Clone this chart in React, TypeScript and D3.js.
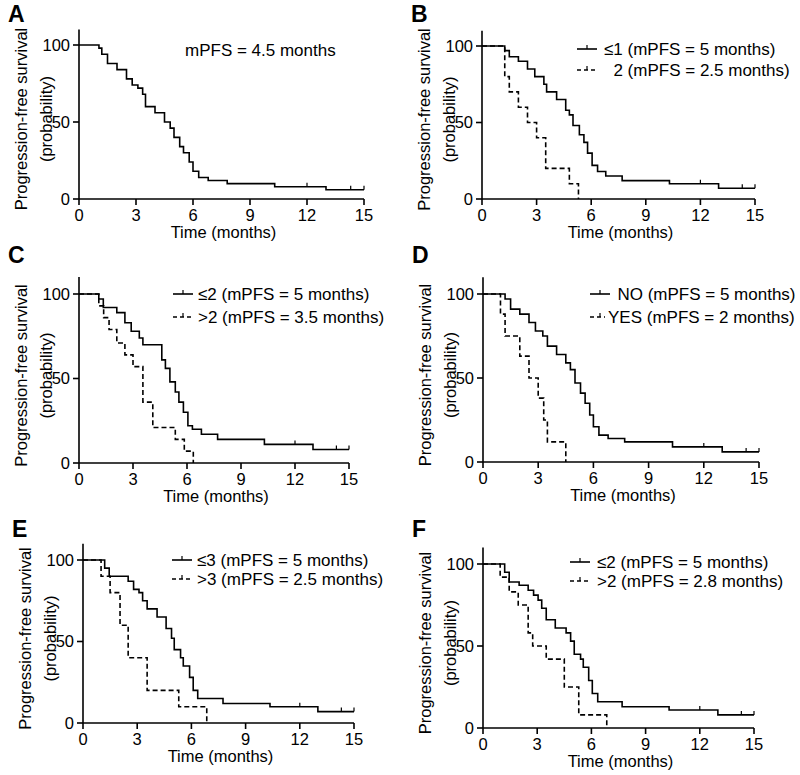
import * as d3 from "d3";

type Step = [number, number];

type Curve = {
  steps: Step[];
  end: number;
  censored: number[];
  dashed: boolean;
  label: string;
};

type Layout = {
  letter: string;
  left: number;
  right: number;
  y0: number;
  y100: number;
  letterY: number;
  legendX: number;
  legendY: number;
  legendGap: number;
  textDx: number;
};

const xTicks = [0, 3, 6, 9, 12, 15];
const yTicks = [0, 50, 100];
const censorTimes = [12, 14.3, 15];

const panelLetters = ["A", "B", "C", "D", "E", "F"];

// A - all patients
const stepsA: Step[] = [
  [1.05, 98], [1.2, 94], [1.5, 88], [2.0, 84], [2.5, 78], [2.8, 74], [3.1, 72],
  [3.35, 68], [3.5, 60], [4.0, 56], [4.5, 50], [4.8, 46], [5.0, 40], [5.3, 34],
  [5.5, 30], [5.8, 24], [6.0, 18], [6.3, 14], [6.8, 12], [7.8, 10], [10.3, 8],
  [13.0, 6],
];

// B
const stepsB1: Step[] = [
  [1.25, 97], [1.5, 93], [2.0, 90], [2.5, 85], [2.9, 80], [3.4, 75], [3.55, 70],
  [4.1, 65], [4.6, 58], [4.8, 55], [5.0, 48], [5.35, 42], [5.6, 37], [5.8, 30],
  [6.05, 22], [6.35, 18], [6.8, 15], [7.7, 12], [10.3, 10], [13.0, 7],
];
const stepsB2: Step[] = [
  [1.25, 80], [1.5, 70], [2.0, 60], [2.5, 50], [3.0, 40], [3.5, 20], [4.8, 10],
  [5.3, 0],
];

// C
const stepsC1: Step[] = [
  [1.1, 97], [1.35, 92], [2.1, 89], [2.55, 83], [2.9, 78], [3.35, 74], [3.55, 70],
  [4.6, 61], [4.8, 56], [5.05, 48], [5.35, 42], [5.55, 36], [5.8, 30], [6.05, 22],
  [6.3, 20], [6.8, 17], [7.7, 14], [10.3, 11], [13.0, 8],
];
const stepsC2: Step[] = [
  [1.1, 93], [1.37, 86], [1.67, 79], [2.1, 71], [2.55, 64], [3.0, 57], [3.55, 36],
  [4.1, 21], [5.35, 14], [5.85, 7], [6.35, 0],
];

// D
const stepsD1: Step[] = [
  [1.2, 97], [1.5, 91], [2.0, 88], [2.5, 83], [2.85, 78], [3.25, 75], [3.5, 69],
  [4.0, 64], [4.5, 59], [4.75, 55], [5.0, 47], [5.3, 41], [5.55, 35], [5.8, 28],
  [6.0, 21], [6.3, 16], [6.8, 14], [7.7, 12], [10.3, 9], [13.0, 6],
];
const stepsD2: Step[] = [
  [0.95, 88], [1.2, 75], [2.0, 63], [2.5, 50], [3.0, 38], [3.3, 25], [3.5, 12],
  [4.5, 0],
];

// E
const stepsE1: Step[] = [
  [1.2, 95], [1.45, 90], [2.5, 87], [2.8, 82], [3.1, 80], [3.3, 75], [3.55, 70],
  [4.1, 65], [4.6, 58], [4.9, 52], [5.05, 45], [5.4, 40], [5.55, 35], [5.9, 28],
  [6.1, 20], [6.35, 15], [7.75, 12], [10.35, 10], [13.0, 7],
];
const stepsE2: Step[] = [
  [1.0, 90], [1.5, 80], [2.05, 60], [2.5, 40], [3.55, 20], [5.3, 10], [6.85, 0],
];

// F
const stepsF1: Step[] = [
  [1.2, 95], [1.45, 89], [2.0, 87], [2.5, 84], [2.8, 81], [3.05, 78], [3.25, 73],
  [3.5, 66], [4.0, 61], [4.6, 58], [4.85, 53], [5.05, 45], [5.4, 42], [5.55, 37],
  [5.85, 29], [6.05, 21], [6.35, 16], [7.7, 13], [10.3, 11], [13.0, 8],
];
const stepsF2: Step[] = [
  [0.95, 92], [1.45, 83], [1.95, 75], [2.5, 58], [2.75, 50], [3.5, 42], [4.5, 25],
  [5.3, 8], [6.85, 0],
];

const labelsA = ["mPFS = 4.5 months"];
const labelsB = ["≤1 (mPFS = 5 months)", "  2 (mPFS = 2.5 months)"];
const labelsC = ["≤2 (mPFS = 5 months)", ">2 (mPFS = 3.5 months)"];
const labelsD = ["  NO (mPFS = 5 months)", "YES (mPFS = 2 months)"];
const labelsE = ["≤3 (mPFS = 5 months)", ">3 (mPFS = 2.5 months)"];
const labelsF = ["≤2 (mPFS = 5 months)", ">2 (mPFS = 2.8 months)"];

const lastTime = (s: Step[]) => s[s.length - 1][0];

const solid = (steps: Step[], label: string): Curve => ({
  steps,
  end: 15,
  censored: censorTimes,
  dashed: false,
  label,
});
const dashed = (steps: Step[], label: string): Curve => ({
  steps,
  end: lastTime(steps),
  censored: [],
  dashed: true,
  label,
});

const panelCurves: Curve[][] = [
  [solid(stepsA, labelsA[0])],
  [solid(stepsB1, labelsB[0]), dashed(stepsB2, labelsB[1])],
  [solid(stepsC1, labelsC[0]), dashed(stepsC2, labelsC[1])],
  [solid(stepsD1, labelsD[0]), dashed(stepsD2, labelsD[1])],
  [solid(stepsE1, labelsE[0]), dashed(stepsE2, labelsE[1])],
  [solid(stepsF1, labelsF[0]), dashed(stepsF2, labelsF[1])],
];

const layouts: Layout[] = [
  { letter: panelLetters[0], left: 79, right: 364, y0: 199, y100: 45, letterY: 22, legendX: 185, legendY: 50, legendGap: 0, textDx: 0 },
  { letter: panelLetters[1], left: 482, right: 755, y0: 199, y100: 46, letterY: 22, legendX: 577, legendY: 49, legendGap: 21, textDx: 27 },
  { letter: panelLetters[2], left: 79, right: 349, y0: 463, y100: 294, letterY: 263, legendX: 173, legendY: 294, legendGap: 23, textDx: 25 },
  { letter: panelLetters[3], left: 483, right: 759, y0: 462, y100: 294, letterY: 263, legendX: 590, legendY: 294, legendGap: 23, textDx: 18 },
  { letter: panelLetters[4], left: 83, right: 354, y0: 723, y100: 560, letterY: 537, legendX: 172, legendY: 560, legendGap: 19, textDx: 25 },
  { letter: panelLetters[5], left: 483, right: 754, y0: 728, y100: 564, letterY: 537, legendX: 570, legendY: 562, legendGap: 19, textDx: 27 },
];

const FONT = '"Liberation Sans", Arial, Helvetica, sans-serif';
const DASH = "5,3";

function valueAt(steps: Step[], t: number) {
  let v = 100;
  for (const [x, s] of steps) if (x <= t) v = s;
  return v;
}

function Panel({ lay, curves }: { lay: Layout; curves: Curve[] }) {
  const x = d3.scaleLinear().domain([0, 15]).range([lay.left, lay.right]);
  const y = d3.scaleLinear().domain([0, 100]).range([lay.y0, lay.y100]);
  const line = d3
    .line<Step>()
    .x((d) => x(d[0]))
    .y((d) => y(d[1]))
    .curve(d3.curveStepAfter);

  const single = curves.length === 1;
  const midY = (y(0) + y(100)) / 2 - 3;

  return (
    <g>
      <text x={lay.left - 71} y={lay.letterY} fontSize={23} fontWeight="bold" fontFamily={FONT}>
        {lay.letter}
      </text>

      {/* axes */}
      <line x1={lay.left} x2={lay.left} y1={y(0)} y2={y(110)} stroke="#000" strokeWidth={1.6} />
      <line x1={lay.left} x2={x(15)} y1={y(0)} y2={y(0)} stroke="#000" strokeWidth={1.6} />
      {yTicks.map((t) => (
        <g key={"y" + t}>
          <line x1={lay.left - 6} x2={lay.left} y1={y(t)} y2={y(t)} stroke="#000" strokeWidth={1.6} />
          <text x={lay.left - 9} y={y(t)} dy="0.36em" textAnchor="end" fontSize={16.5} fontFamily={FONT}>
            {t}
          </text>
        </g>
      ))}
      {xTicks.map((t) => (
        <g key={"x" + t}>
          <line x1={x(t)} x2={x(t)} y1={y(0)} y2={y(0) + 6} stroke="#000" strokeWidth={1.6} />
          <text x={x(t)} y={y(0) + 22} textAnchor="middle" fontSize={16.5} fontFamily={FONT}>
            {t}
          </text>
        </g>
      ))}
      <text x={(lay.left + lay.right) / 2 + 2} y={y(0) + 39} textAnchor="middle" fontSize={16.5} fontFamily={FONT}>
        Time (months)
      </text>
      <text
        transform={`translate(${lay.left - 58},${midY}) rotate(-90)`}
        textAnchor="middle"
        dominantBaseline="central"
        fontSize={16.5}
        fontFamily={FONT}
      >
        Progression-free survival
      </text>
      <text
        transform={`translate(${lay.left - 33},${midY}) rotate(-90)`}
        textAnchor="middle"
        dominantBaseline="central"
        fontSize={16.5}
        fontFamily={FONT}
      >
        (probability)
      </text>

      {/* curves */}
      {curves.map((c, i) => {
        const pts: Step[] = [[0, 100], ...c.steps, [c.end, c.steps[c.steps.length - 1][1]]];
        return (
          <g key={"c" + i}>
            <path
              d={line(pts) ?? undefined}
              fill="none"
              stroke="#000"
              strokeWidth={1.6}
              strokeDasharray={c.dashed ? DASH : undefined}
            />
            {c.censored.map((t) => (
              <line
                key={t}
                x1={x(t)}
                x2={x(t)}
                y1={y(valueAt(c.steps, t)) - 4}
                y2={y(valueAt(c.steps, t))}
                stroke="#000"
                strokeWidth={1.2}
              />
            ))}
          </g>
        );
      })}

      {/* legend */}
      {single ? (
        <text x={lay.legendX} y={lay.legendY} dy="0.35em" fontSize={17} fontFamily={FONT}>
          {curves[0].label}
        </text>
      ) : (
        curves.map((c, i) => {
          const ly = lay.legendY + i * lay.legendGap;
          const len = c.dashed && lay.textDx < 20 ? 15 : 20;
          return (
            <g key={"l" + i}>
              <line
                x1={lay.legendX}
                x2={lay.legendX + len}
                y1={ly}
                y2={ly}
                stroke="#000"
                strokeWidth={1.6}
                strokeDasharray={c.dashed ? "4,3" : undefined}
              />
              <line x1={lay.legendX + 10} x2={lay.legendX + 10} y1={ly - 4} y2={ly} stroke="#000" strokeWidth={1.2} />
              <text
                x={lay.legendX + lay.textDx}
                y={ly}
                dy="0.35em"
                fontSize={17}
                fontFamily={FONT}
                style={{ whiteSpace: "pre" }}
              >
                {c.label}
              </text>
            </g>
          );
        })
      )}
    </g>
  );
}

export default function App() {
  return (
    <svg
      width={800}
      height={775}
      style={{ position: "absolute", left: 0, top: 0, background: "#fff" }}
    >
      <rect width={800} height={775} fill="#fff" />
      {layouts.map((lay, i) => (
        <Panel key={lay.letter} lay={lay} curves={panelCurves[i]} />
      ))}
    </svg>
  );
}
